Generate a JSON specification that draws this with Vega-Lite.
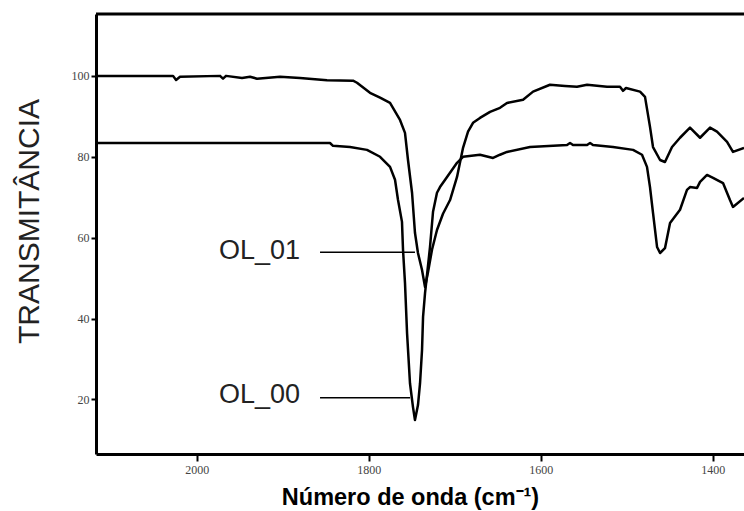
{
  "$schema": "https://vega.github.io/schema/vega-lite/v6.json",
  "width": 648,
  "height": 440,
  "autosize": {"type": "none"},
  "padding": {"left": 96, "top": 14, "right": 0, "bottom": 57},
  "background": "white",
  "config": {"view": {"stroke": null}},
  "datasets": {
    "spectra": [
      {"s": "OL_01", "wn": 2117.1, "t": 100.0},
      {"s": "OL_01", "wn": 2077.5, "t": 100.0},
      {"s": "OL_01", "wn": 2027.5, "t": 100.0},
      {"s": "OL_01", "wn": 2024.0, "t": 99.0},
      {"s": "OL_01", "wn": 2019.4, "t": 99.8},
      {"s": "OL_01", "wn": 1972.9, "t": 100.0},
      {"s": "OL_01", "wn": 1969.4, "t": 99.3},
      {"s": "OL_01", "wn": 1965.9, "t": 100.0},
      {"s": "OL_01", "wn": 1947.3, "t": 99.5},
      {"s": "OL_01", "wn": 1938.0, "t": 99.8},
      {"s": "OL_01", "wn": 1929.9, "t": 99.3},
      {"s": "OL_01", "wn": 1903.1, "t": 99.8},
      {"s": "OL_01", "wn": 1879.9, "t": 99.5},
      {"s": "OL_01", "wn": 1848.5, "t": 98.9},
      {"s": "OL_01", "wn": 1818.2, "t": 98.8},
      {"s": "OL_01", "wn": 1813.6, "t": 98.3},
      {"s": "OL_01", "wn": 1798.5, "t": 95.8},
      {"s": "OL_01", "wn": 1786.8, "t": 94.6},
      {"s": "OL_01", "wn": 1775.2, "t": 93.3},
      {"s": "OL_01", "wn": 1763.6, "t": 89.1},
      {"s": "OL_01", "wn": 1757.8, "t": 85.9},
      {"s": "OL_01", "wn": 1754.3, "t": 79.2},
      {"s": "OL_01", "wn": 1749.6, "t": 71.1},
      {"s": "OL_01", "wn": 1746.2, "t": 61.2},
      {"s": "OL_01", "wn": 1742.7, "t": 56.2},
      {"s": "OL_01", "wn": 1738.0, "t": 52.0},
      {"s": "OL_01", "wn": 1734.5, "t": 47.8},
      {"s": "OL_01", "wn": 1731.0, "t": 51.5},
      {"s": "OL_01", "wn": 1726.4, "t": 57.0},
      {"s": "OL_01", "wn": 1720.6, "t": 61.9},
      {"s": "OL_01", "wn": 1713.6, "t": 65.9},
      {"s": "OL_01", "wn": 1705.4, "t": 69.3},
      {"s": "OL_01", "wn": 1697.3, "t": 75.0},
      {"s": "OL_01", "wn": 1690.3, "t": 82.2},
      {"s": "OL_01", "wn": 1684.5, "t": 86.2},
      {"s": "OL_01", "wn": 1678.7, "t": 88.4},
      {"s": "OL_01", "wn": 1670.6, "t": 89.6},
      {"s": "OL_01", "wn": 1658.9, "t": 91.1},
      {"s": "OL_01", "wn": 1647.3, "t": 92.1},
      {"s": "OL_01", "wn": 1639.2, "t": 93.3},
      {"s": "OL_01", "wn": 1620.5, "t": 94.1},
      {"s": "OL_01", "wn": 1608.9, "t": 96.1},
      {"s": "OL_01", "wn": 1589.2, "t": 97.8},
      {"s": "OL_01", "wn": 1571.7, "t": 97.5},
      {"s": "OL_01", "wn": 1557.8, "t": 97.3},
      {"s": "OL_01", "wn": 1546.1, "t": 97.8},
      {"s": "OL_01", "wn": 1522.9, "t": 97.3},
      {"s": "OL_01", "wn": 1507.8, "t": 97.3},
      {"s": "OL_01", "wn": 1504.3, "t": 96.3},
      {"s": "OL_01", "wn": 1500.8, "t": 97.0},
      {"s": "OL_01", "wn": 1484.5, "t": 96.1},
      {"s": "OL_01", "wn": 1478.7, "t": 94.8},
      {"s": "OL_01", "wn": 1472.9, "t": 87.4},
      {"s": "OL_01", "wn": 1469.4, "t": 82.4},
      {"s": "OL_01", "wn": 1461.2, "t": 79.2},
      {"s": "OL_01", "wn": 1455.5, "t": 78.7},
      {"s": "OL_01", "wn": 1447.3, "t": 82.4},
      {"s": "OL_01", "wn": 1438.0, "t": 84.7},
      {"s": "OL_01", "wn": 1426.4, "t": 87.2},
      {"s": "OL_01", "wn": 1414.7, "t": 84.7},
      {"s": "OL_01", "wn": 1403.1, "t": 87.2},
      {"s": "OL_01", "wn": 1395.0, "t": 86.2},
      {"s": "OL_01", "wn": 1383.3, "t": 83.7},
      {"s": "OL_01", "wn": 1376.4, "t": 81.2},
      {"s": "OL_01", "wn": 1363.6, "t": 82.2},
      {"s": "OL_00", "wn": 2117.1, "t": 83.4},
      {"s": "OL_00", "wn": 1996.1, "t": 83.4},
      {"s": "OL_00", "wn": 1903.1, "t": 83.4},
      {"s": "OL_00", "wn": 1845.0, "t": 83.4},
      {"s": "OL_00", "wn": 1841.5, "t": 82.7},
      {"s": "OL_00", "wn": 1821.7, "t": 82.4},
      {"s": "OL_00", "wn": 1802.0, "t": 81.7},
      {"s": "OL_00", "wn": 1786.8, "t": 80.0},
      {"s": "OL_00", "wn": 1775.2, "t": 77.5},
      {"s": "OL_00", "wn": 1769.4, "t": 74.3},
      {"s": "OL_00", "wn": 1765.9, "t": 69.3},
      {"s": "OL_00", "wn": 1761.3, "t": 63.9},
      {"s": "OL_00", "wn": 1760.1, "t": 57.0},
      {"s": "OL_00", "wn": 1757.8, "t": 48.8},
      {"s": "OL_00", "wn": 1755.4, "t": 36.4},
      {"s": "OL_00", "wn": 1752.0, "t": 24.0},
      {"s": "OL_00", "wn": 1748.5, "t": 18.1},
      {"s": "OL_00", "wn": 1746.2, "t": 14.9},
      {"s": "OL_00", "wn": 1742.7, "t": 18.6},
      {"s": "OL_00", "wn": 1740.3, "t": 24.0},
      {"s": "OL_00", "wn": 1738.0, "t": 32.2},
      {"s": "OL_00", "wn": 1736.8, "t": 40.4},
      {"s": "OL_00", "wn": 1734.5, "t": 46.3},
      {"s": "OL_00", "wn": 1732.2, "t": 50.8},
      {"s": "OL_00", "wn": 1728.7, "t": 57.7},
      {"s": "OL_00", "wn": 1725.2, "t": 66.4},
      {"s": "OL_00", "wn": 1720.6, "t": 71.1},
      {"s": "OL_00", "wn": 1717.1, "t": 72.5},
      {"s": "OL_00", "wn": 1708.9, "t": 75.0},
      {"s": "OL_00", "wn": 1697.3, "t": 78.5},
      {"s": "OL_00", "wn": 1690.3, "t": 80.0},
      {"s": "OL_00", "wn": 1670.6, "t": 80.5},
      {"s": "OL_00", "wn": 1655.4, "t": 79.7},
      {"s": "OL_00", "wn": 1647.3, "t": 80.5},
      {"s": "OL_00", "wn": 1639.2, "t": 81.2},
      {"s": "OL_00", "wn": 1612.4, "t": 82.4},
      {"s": "OL_00", "wn": 1569.4, "t": 82.9},
      {"s": "OL_00", "wn": 1565.9, "t": 83.4},
      {"s": "OL_00", "wn": 1562.4, "t": 82.9},
      {"s": "OL_00", "wn": 1546.1, "t": 82.9},
      {"s": "OL_00", "wn": 1542.6, "t": 83.4},
      {"s": "OL_00", "wn": 1539.2, "t": 82.9},
      {"s": "OL_00", "wn": 1515.9, "t": 82.4},
      {"s": "OL_00", "wn": 1492.6, "t": 81.7},
      {"s": "OL_00", "wn": 1482.2, "t": 80.5},
      {"s": "OL_00", "wn": 1476.4, "t": 77.5},
      {"s": "OL_00", "wn": 1472.9, "t": 72.5},
      {"s": "OL_00", "wn": 1469.4, "t": 66.1},
      {"s": "OL_00", "wn": 1464.7, "t": 57.7},
      {"s": "OL_00", "wn": 1461.2, "t": 56.2},
      {"s": "OL_00", "wn": 1455.5, "t": 57.4},
      {"s": "OL_00", "wn": 1449.6, "t": 63.6},
      {"s": "OL_00", "wn": 1438.0, "t": 66.9},
      {"s": "OL_00", "wn": 1429.9, "t": 71.8},
      {"s": "OL_00", "wn": 1426.4, "t": 72.5},
      {"s": "OL_00", "wn": 1418.2, "t": 72.3},
      {"s": "OL_00", "wn": 1414.7, "t": 73.8},
      {"s": "OL_00", "wn": 1406.6, "t": 75.5},
      {"s": "OL_00", "wn": 1399.6, "t": 74.8},
      {"s": "OL_00", "wn": 1388.0, "t": 73.5},
      {"s": "OL_00", "wn": 1379.9, "t": 69.3},
      {"s": "OL_00", "wn": 1376.4, "t": 67.6},
      {"s": "OL_00", "wn": 1363.6, "t": 69.8}
    ],
    "labels": [
      {"s": "OL_01", "tx": 1879.9, "x1": 1856.6, "x2": 1746.2, "y": 56.4, "ty": 56.6},
      {"s": "OL_00", "tx": 1879.9, "x1": 1856.6, "x2": 1751.9, "y": 20.4, "ty": 21.0}
    ]
  },
  "layer": [
    {
      "data": {"name": "spectra"},
      "mark": {"type": "line", "color": "black", "strokeWidth": 2.5, "clip": true, "strokeJoin": "round"},
      "encoding": {
        "x": {
          "field": "wn", "type": "quantitative",
          "scale": {"domain": [1363.6, 2117.1], "reverse": true, "nice": false, "zero": false},
          "axis": {
            "values": [2000, 1800, 1600, 1400],
            "format": "d",
            "grid": false,
            "domainColor": "black", "domainWidth": 3,
            "tickColor": "black", "tickWidth": 2, "tickSize": 7,
            "labelFont": "Liberation Serif", "labelFontSize": 12, "labelColor": "#444", "labelPadding": 3,
            "title": "Número de onda (cm⁻¹)",
            "titleFont": "Liberation Sans", "titleFontSize": 23.5, "titleFontWeight": "bold", "titleColor": "black",
            "titleBaseline": "middle", "titleAlign": "center", "titleX": 314, "titleY": 43
          }
        },
        "y": {
          "field": "t", "type": "quantitative",
          "scale": {"domain": [6.5, 115.3], "nice": false, "zero": false},
          "axis": {
            "values": [20, 40, 60, 80, 100],
            "format": "d",
            "grid": false,
            "domainColor": "black", "domainWidth": 3,
            "tickColor": "black", "tickWidth": 2, "tickSize": 5,
            "labelFont": "Liberation Serif", "labelFontSize": 12, "labelColor": "#444", "labelPadding": 2,
            "title": "TRANSMITÂNCIA",
            "titleFont": "Liberation Sans", "titleFontSize": 30, "titleFontWeight": "normal", "titleColor": "#222",
            "titleBaseline": "middle", "titleAlign": "center", "titleX": -67, "titleY": 207, "titleAngle": 270
          }
        },
        "detail": {"field": "s", "type": "nominal"}
      }
    },
    {
      "data": {"name": "labels"},
      "mark": {"type": "rule", "color": "black", "strokeWidth": 1.5},
      "encoding": {
        "x": {"field": "x1", "type": "quantitative"},
        "x2": {"field": "x2"},
        "y": {"field": "y", "type": "quantitative"}
      }
    },
    {
      "data": {"name": "labels"},
      "mark": {"type": "text", "align": "right", "baseline": "middle", "font": "Liberation Sans", "fontSize": 27, "color": "#222"},
      "encoding": {
        "x": {"field": "tx", "type": "quantitative"},
        "y": {"field": "ty", "type": "quantitative"},
        "text": {"field": "s"}
      }
    },
    {
      "data": {"values": [{"top": 115.3}]},
      "mark": {"type": "rule", "color": "black", "strokeWidth": 3},
      "encoding": {"y": {"field": "top", "type": "quantitative"}}
    }
  ]
}
